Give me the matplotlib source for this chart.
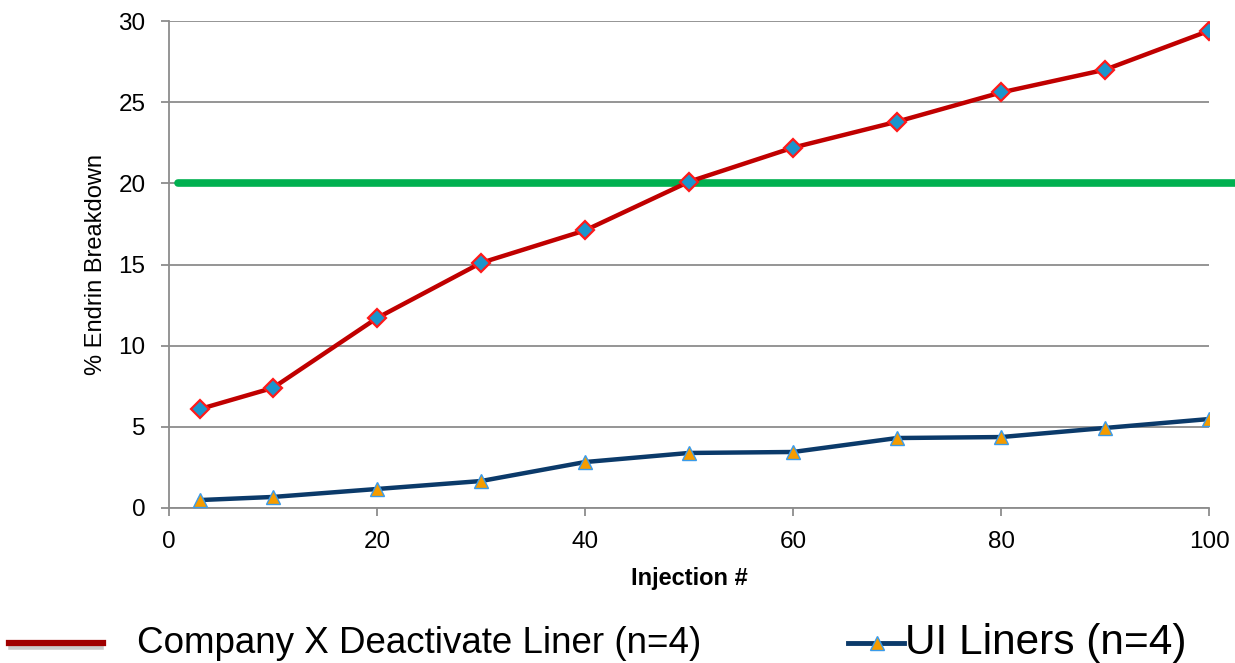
import matplotlib.pyplot as plt
from matplotlib.lines import Line2D

plt.rcParams['font.family'] = ['Liberation Sans', 'DejaVu Sans']

injections = [3, 10, 20, 30, 40, 50, 60, 70, 80, 90, 100]
companyX = [6.1, 7.4, 11.7, 15.1, 17.1, 20.1, 22.2, 23.8, 25.6, 27.0, 29.4]
uiLiners = [0.49, 0.68, 1.17, 1.66, 2.83, 3.39, 3.45, 4.31, 4.37, 4.93, 5.48]
limitLine = 20
xTicks = [0, 20, 40, 60, 80, 100]
yTicks = [0, 5, 10, 15, 20, 25, 30]

fig = plt.figure(figsize=(12.35, 6.63), dpi=100)
ax = fig.add_axes([0.1368, 0.2338, 0.9790 - 0.1368, 0.9683 - 0.2338])

ax.plot(injections, companyX, color='#C00000', lw=3.2, marker='D', markersize=9,
        markerfacecolor='#1B95CC', markeredgecolor='#FF1A1A', markeredgewidth=1.6, zorder=4)
ax.plot(injections, uiLiners, color='#0B3A6A', lw=3.2, marker='^', markersize=9.5,
        markerfacecolor='#F59C00', markeredgecolor='#3A9BEA', markeredgewidth=1.0, zorder=4)
# threshold line runs past the plot edge
ax.plot([0.9, 103], [limitLine, limitLine], color='#00B050', lw=5.5, clip_on=False, zorder=3,
        solid_capstyle='round')

ax.set_xlim(0, 100)
ax.set_ylim(0, 30)
ax.set_xticks(xTicks)
ax.set_yticks(yTicks)
ax.grid(axis='y', color='#8C8C8C', lw=1.3)
ax.set_axisbelow(True)
for s in ['top', 'right']:
    ax.spines[s].set_visible(False)
for s in ['left', 'bottom']:
    ax.spines[s].set_color('#8C8C8C')
    ax.spines[s].set_linewidth(1.3)
ax.tick_params(axis='both', colors='#8C8C8C', labelcolor='black', labelsize=17.5, length=5.8, width=1.3, pad=11)
ax.set_ylabel('% Endrin Breakdown', fontsize=17, labelpad=8.5)
ax.set_xlabel('Injection #', fontsize=17, fontweight='bold', labelpad=10)

# legend along the bottom
fig.add_artist(Line2D([0.009, 0.082], [0.024, 0.024], color='#999999', lw=4, alpha=0.5))
fig.add_artist(Line2D([0.007, 0.083], [0.030, 0.030], color='#A00000', lw=4.5))
fig.text(0.111, 0.030, 'Company X Deactivate Liner (n=4)', fontsize=26.5, va='center')
fig.add_artist(Line2D([0.687, 0.732], [0.030, 0.030], color='#0B3A6A', lw=3.5))
fig.add_artist(Line2D([0.710], [0.030], marker='^', markersize=9.5, color='none',
                      markerfacecolor='#F59C00', markeredgecolor='#3A9BEA'))
fig.text(0.733, 0.030, 'UI Liners (n=4)', fontsize=30.5, va='center')

fig.savefig('out.png', dpi=100)
